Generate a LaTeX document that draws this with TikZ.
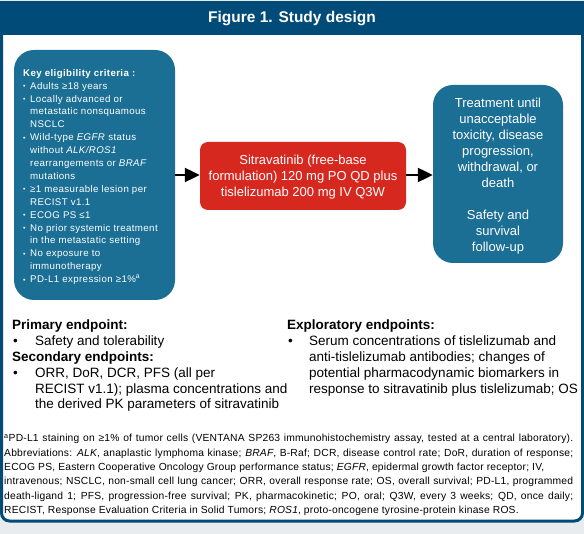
\documentclass[tikz,border=0pt]{standalone}
\usepackage{fontspec}
\setmainfont{Liberation Sans}
\newfontfamily\eligfont[LetterSpace=4]{Liberation Sans}
\newfontfamily\footfont[LetterSpace=2]{Liberation Sans}
\usetikzlibrary{arrows.meta}
\definecolor{hdrblue}{RGB}{0,75,120}
\definecolor{boxblue}{RGB}{27,111,149}
\definecolor{boxred}{RGB}{215,40,32}
\definecolor{bggray}{RGB}{233,236,239}
\newcommand\ebl{\makebox[7pt][l]{\scriptsize\raisebox{0.5pt}{•}}}
\newcommand\eind{\hspace*{7pt}}
\newcommand\pbl{\makebox[23pt][l]{\hspace*{1pt}•}}
\newcommand\pind{\hspace*{23pt}}
\begin{document}
\begin{tikzpicture}[x=1pt,y=-1pt,
  panel/.style={draw=hdrblue,line width=3pt,fill=white,rounded corners=8pt},
  bluebox/.style={fill=boxblue,rounded corners=20pt},
  redbox/.style={fill=boxred,rounded corners=8pt},
  boxtext/.style={text=white,align=center,font=\fontsize{13}{16}\selectfont,inner sep=0pt},
  eptext/.style={align=left,anchor=north west,inner sep=0pt,font=\fontsize{13.5}{15.8}\selectfont},
  flow/.style={line width=2.2pt,-{Triangle[length=15pt,width=14pt]}}]
\useasboundingbox (0,0) rectangle (584,534);
\fill[bggray] (0,0) rectangle (584,534);
\draw[panel] (1.5,3) rectangle (582.5,521);
\fill[hdrblue] (0,1.5) rectangle (584,35);
\node[text=white,font=\fontsize{15.5}{18}\selectfont\bfseries] (title) at (292,19) {Figure 1. Study design};
% boxes
\fill[bluebox] (14,50) rectangle (175,300);
\coordinate (eligR) at (175,175);
\node[anchor=north west,align=left,inner sep=0pt,text=white,
  font=\eligfont\fontsize{9.7}{12.9}\selectfont] (elig) at (23,69) {%
\textbf{Key eligibility criteria :}\\
\ebl Adults ≥18 years\\
\ebl Locally advanced or\\
\eind metastatic nonsquamous\\
\eind NSCLC\\
\ebl Wild-type \textit{EGFR} status\\
\eind without \textit{ALK/ROS1}\\
\eind rearrangements or \textit{BRAF}\\
\eind mutations\\
\ebl ≥1 measurable lesion per\\
\eind RECIST v1.1\\
\ebl ECOG PS ≤1\\
\ebl No prior systemic treatment\\
\eind in the metastatic setting\\
\ebl No exposure to\\
\eind immunotherapy\\
\ebl PD-L1 expression ≥1\%\textsuperscript{a}};
\node[redbox,minimum width=206pt,minimum height=68pt,inner sep=0pt] (treat) at (303,176) {};
\node[boxtext] (treattxt) at (303,177) {Sitravatinib (free-base\\formulation) 120 mg PO QD plus\\tislelizumab 200 mg IV Q3W};
\node[bluebox,minimum width=130pt,minimum height=178pt,inner sep=0pt] (follow) at (498,174) {};
\node[boxtext] (followtxt) at (498,176) {Treatment until\\unacceptable\\toxicity, disease\\progression,\\withdrawal, or\\death\\[16pt]Safety and\\survival\\follow-up};
\draw[flow] (eligR) -- (treat.west |- eligR);
\draw[flow] (treat.east |- eligR) -- (follow.west |- eligR);
% endpoints
\node[eptext] (prim) at (12,320) {%
\textbf{Primary endpoint:}\\
\pbl Safety and tolerability\\
\textbf{Secondary endpoints:}\\
\pbl ORR, DoR, DCR, PFS (all per\\
\pind RECIST v1.1); plasma concentrations and\\
\pind the derived PK parameters of sitravatinib};
\node[eptext] (expl) at (287,320) {%
\textbf{Exploratory endpoints:}\\
\makebox[22pt][l]{\hspace*{1pt}•}Serum concentrations of tislelizumab and\\
\hspace*{22pt}anti-tislelizumab antibodies; changes of\\
\hspace*{22pt}potential pharmacodynamic biomarkers in\\
\hspace*{22pt}response to sitravatinib plus tislelizumab; OS};
% footnote
\node[anchor=north west,align=left,inner sep=0pt,font=\footfont\fontsize{10.3}{14.4}\selectfont] (foot) at (4,434) {%
\makebox[569pt][s]{\textsuperscript{a}PD-L1 staining on ≥1\% of tumor cells (VENTANA SP263 immunohistochemistry assay, tested at a central laboratory).}\\
\makebox[569pt][s]{Abbreviations: \textit{ALK}, anaplastic lymphoma kinase; \textit{BRAF}, B-Raf; DCR, disease control rate; DoR, duration of response;}\\
ECOG PS, Eastern Cooperative Oncology Group performance status; \textit{EGFR}, epidermal growth factor receptor; IV,\\
\makebox[569pt][s]{intravenous; NSCLC, non-small cell lung cancer; ORR, overall response rate; OS, overall survival; PD-L1, programmed}\\
\makebox[569pt][s]{death-ligand 1; PFS, progression-free survival; PK, pharmacokinetic; PO, oral; Q3W, every 3 weeks; QD, once daily;}\\
RECIST, Response Evaluation Criteria in Solid Tumors; \textit{ROS1}, proto-oncogene tyrosine-protein kinase ROS.};
\end{tikzpicture}
\end{document}
